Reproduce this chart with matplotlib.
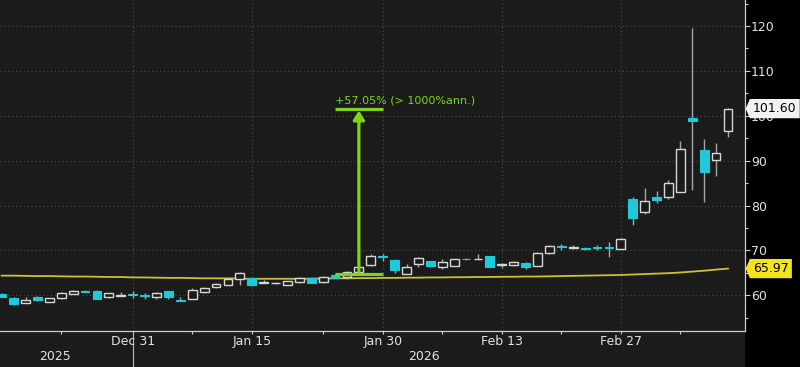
import numpy as np
import pandas as pd
import matplotlib
matplotlib.use("Agg")
import matplotlib.pyplot as plt
from matplotlib.patches import Rectangle
from matplotlib.path import Path
import matplotlib.transforms as mtransforms

# ---------------- data ----------------
dates = pd.bdate_range("2025-12-15", "2026-03-12", freq="C",
                       holidays=["2025-12-25", "2026-01-01"])

opens = [60.3, 59.5, 58.4, 59.7, 58.6, 59.4, 60.3, 61.0, 61.0, 59.6,
         59.9, 60.3, 60.0, 59.7, 60.9, 59.0, 59.3, 60.8, 61.8, 62.4,
         63.7, 63.8, 62.8, 62.7, 62.4, 62.9, 63.8, 62.9, 64.6, 64.2,
         65.3, 66.7, 68.7, 67.9, 64.8, 66.9, 67.6, 66.4, 66.6, 68.2,
         68.1, 68.7, 66.7, 66.8, 67.3, 66.6, 69.4, 71.0, 70.5, 70.6,
         70.7, 70.8, 70.4, 81.5, 78.6, 81.9, 81.9, 83.0, 99.6, 92.3,
         90.2, 96.6]
highs = [60.6, 59.6, 59.6, 59.8, 59.5, 60.7, 61.1, 61.2, 61.1, 60.6,
         60.8, 60.9, 60.5, 60.7, 61.0, 59.6, 61.6, 61.8, 62.7, 63.9,
         65.1, 63.9, 63.4, 62.9, 63.3, 64.0, 63.9, 64.4, 64.7, 65.5,
         66.6, 69.2, 69.3, 68.0, 66.9, 68.6, 67.7, 68.0, 68.2, 68.3,
         69.3, 68.8, 67.2, 67.7, 67.5, 69.7, 71.2, 71.4, 71.2, 70.7,
         71.2, 71.9, 72.8, 81.9, 84.0, 83.3, 85.7, 94.4, 119.5, 94.8,
         93.9, 101.7]
lows = [59.6, 57.9, 58.3, 58.8, 58.5, 59.3, 60.2, 60.7, 59.1, 59.5,
        59.9, 59.5, 59.2, 59.2, 59.3, 58.7, 59.2, 60.6, 61.6, 62.3,
        62.3, 62.2, 62.8, 62.6, 62.3, 62.8, 62.7, 62.8, 63.8, 63.6,
        65.1, 66.5, 67.6, 64.9, 64.7, 66.3, 66.3, 65.9, 66.5, 67.9,
        68.0, 66.3, 66.1, 66.6, 65.8, 66.5, 69.3, 70.2, 70.4, 70.2,
        70.0, 68.5, 70.3, 75.6, 78.1, 80.6, 81.5, 83.0, 83.4, 80.8,
        86.5, 95.2]
closes = [59.7, 58.0, 58.9, 58.9, 59.4, 60.6, 61.0, 60.8, 59.2, 60.5,
          60.1, 60.0, 59.8, 60.6, 59.6, 58.8, 61.2, 61.6, 62.5, 63.7,
          64.9, 62.3, 62.9, 62.8, 63.1, 63.8, 62.8, 64.2, 63.9, 65.3,
          66.4, 68.7, 68.5, 65.7, 66.3, 68.4, 66.5, 67.4, 68.1, 68.0,
          68.2, 66.4, 66.9, 67.5, 66.4, 69.5, 71.1, 70.8, 70.7, 70.3,
          70.5, 70.6, 72.6, 77.3, 81.1, 81.2, 85.1, 92.5, 98.9, 87.5,
          91.7, 101.6]
moving_avg = [64.4, 64.4, 64.35, 64.3, 64.3, 64.25, 64.2, 64.2, 64.15, 64.1,
              64.1, 64.0, 64.0, 63.95, 63.9, 63.9, 63.85, 63.8, 63.8, 63.8,
              63.75, 63.7, 63.7, 63.7, 63.7, 63.7, 63.75, 63.75, 63.8, 63.8,
              63.85, 63.85, 63.9, 63.9, 63.95, 63.95, 64.0, 64.0, 64.05, 64.05,
              64.1, 64.1, 64.15, 64.15, 64.2, 64.2, 64.25, 64.3, 64.35, 64.4,
              64.45, 64.5, 64.55, 64.65, 64.75, 64.85, 64.95, 65.1, 65.3, 65.5,
              65.75, 65.97]

last_price = 101.60
last_ma = 65.97
measure_low = 64.69
measure_high = 101.60
measure_text = "+57.05% (> 1000%ann.)"
measure_dates = ["2026-01-26", "2026-01-30"]
measure_mid_date = "2026-01-28"

major_labels = ["Dec 31", "Jan 15", "Jan 30", "Feb 13", "Feb 27"]
major_dates = ["2025-12-31", "2026-01-15", "2026-01-30", "2026-02-13", "2026-02-27"]
minor_dates = ["2025-12-22", "2026-01-08", "2026-01-23", "2026-02-06", "2026-02-20", "2026-03-06"]
year_labels = ["2025", "2026"]
year_label_dates = ["2025-12-19", "2026-02-04"]
year_break_date = "2025-12-31"

y_major = [60, 70, 80, 90, 100, 110, 120]
y_minor = [55, 65, 75, 85, 95, 105, 115, 125]

# ---------------- style ----------------
BG = "#1b1b1b"
TEAL = "#1ec9d9"
HOLLOW_EDGE = "#d6d6d6"
WICK = "#a6a6a6"
AXIS = "#cfcfcf"
TXT = "#e2e2e2"
GREEN = "#80d417"
YELLOW_LINE = "#cdbf36"
YELLOW_TAG = "#f3e41d"

W, H = 800, 367
fig = plt.figure(figsize=(W / 100, H / 100), dpi=100)
fig.patch.set_facecolor("#000000")
fig.add_artist(Rectangle((0, 0), 745 / W, 1, transform=fig.transFigure,
                         facecolor=BG, edgecolor="none", zorder=-10))

ax_bottom_px = 331
ax = fig.add_axes([0, 1 - ax_bottom_px / H, 745 / W, ax_bottom_px / H])
ax.set_facecolor(BG)

pos = {d.strftime("%Y-%m-%d"): i for i, d in enumerate(dates)}
x = np.arange(len(dates))
o = np.array(opens); c = np.array(closes); hi = np.array(highs); lo = np.array(lows)
up = c >= o

# moving average line
ax.plot(x, moving_avg, color=YELLOW_LINE, lw=1.3, zorder=2)

# wicks
ax.vlines(x, lo, hi, color=WICK, lw=1.0, zorder=3)
# bodies
bw = 0.74
ax.bar(x[up], (c - o)[up], bottom=o[up], width=bw, facecolor=BG,
       edgecolor=HOLLOW_EDGE, linewidth=1.0, zorder=4)
ax.bar(x[~up], (o - c)[~up], bottom=c[~up], width=bw, facecolor=TEAL,
       edgecolor=TEAL, linewidth=0.8, zorder=4)

# axes limits
ax.set_xlim(-0.143, 62.43)
ax.set_ylim(52.07, 125.79)

# y axis on right
ax.yaxis.tick_right()
ax.set_yticks(y_major)
ax.set_yticks(y_minor, minor=True)
ax.tick_params(axis="y", which="major", length=3.6, width=0.8, color=AXIS,
               labelcolor=TXT, labelsize=9, pad=0.8)
ax.tick_params(axis="y", which="minor", length=2.2, width=0.8, color=AXIS)

# x axis
ax.set_xticks([pos[d] for d in major_dates])
ax.set_xticklabels(major_labels)
ax.set_xticks([pos[d] for d in minor_dates], minor=True)
ax.tick_params(axis="x", which="major", length=2.5, width=0.8, color=AXIS,
               labelcolor=TXT, labelsize=9, pad=0.6)
ax.tick_params(axis="x", which="minor", length=2.5, width=0.8, color=AXIS)

for s in ["left", "top"]:
    ax.spines[s].set_visible(False)
for s in ["right", "bottom"]:
    ax.spines[s].set_color(AXIS)
    ax.spines[s].set_linewidth(0.9)

ax.grid(which="major", color="#4e4e4e", linestyle=(0, (1, 2.5)), linewidth=0.8)
ax.set_axisbelow(True)

# year labels and separator
bt = mtransforms.blended_transform_factory(ax.transData, ax.transAxes)
for lab, d in zip(year_labels, year_label_dates):
    ax.text(pos[d] + 0.5, -0.078, lab, transform=bt, ha="center", va="center",
            color=TXT, fontsize=9)
xb = pos[year_break_date]
ax.plot([xb, xb], [0, -0.12], transform=bt, color="#bdbdbd", lw=0.8, clip_on=False)

# measurement annotation
x0m, x1m = pos[measure_dates[0]], pos[measure_dates[1]]
xm = pos[measure_mid_date]
ax.plot([x0m, x1m], [measure_low, measure_low], color=GREEN, lw=2.3,
        solid_capstyle="butt", zorder=6)
ax.plot([x0m, x1m], [measure_high, measure_high], color=GREEN, lw=2.3,
        solid_capstyle="butt", zorder=6)
ax.annotate("", xy=(xm, measure_high - 0.4), xytext=(xm, measure_low),
            arrowprops=dict(arrowstyle="-|>,head_length=0.45,head_width=0.28",
                            color=GREEN, lw=2.3, mutation_scale=12,
                            shrinkA=0, shrinkB=0), zorder=6)
ax.text(x0m, measure_high + 1.7, measure_text, color=GREEN, fontsize=8,
        ha="left", va="center", zorder=6)


# value tags on right
def tag_box(x0, y0, width, height, mutation_size):
    pad = 0.25 * mutation_size
    x0, y0 = x0 - pad, y0 - pad
    w, h = width + 2 * pad, height + 2 * pad
    tip = 0.22 * h
    return Path([(x0 - tip, y0 + h / 2), (x0, y0), (x0 + w, y0),
                 (x0 + w, y0 + h), (x0, y0 + h), (x0 - tip, y0 + h / 2)],
                closed=True)


yt = ax.get_yaxis_transform()
ax.text(753 / 745, last_price, f"{last_price:.2f}", transform=yt, ha="left",
        va="center", color="#000000", fontsize=9, clip_on=False, zorder=10,
        bbox=dict(boxstyle=tag_box, facecolor="#f2f2f2", edgecolor="none"))
ax.text(753 / 745, last_ma, f"{last_ma:.2f}", transform=yt, ha="left",
        va="center", color="#000000", fontsize=9, clip_on=False, zorder=10,
        bbox=dict(boxstyle=tag_box, facecolor=YELLOW_TAG, edgecolor="none"))

fig.savefig("out.png", dpi=100, facecolor=fig.get_facecolor())
